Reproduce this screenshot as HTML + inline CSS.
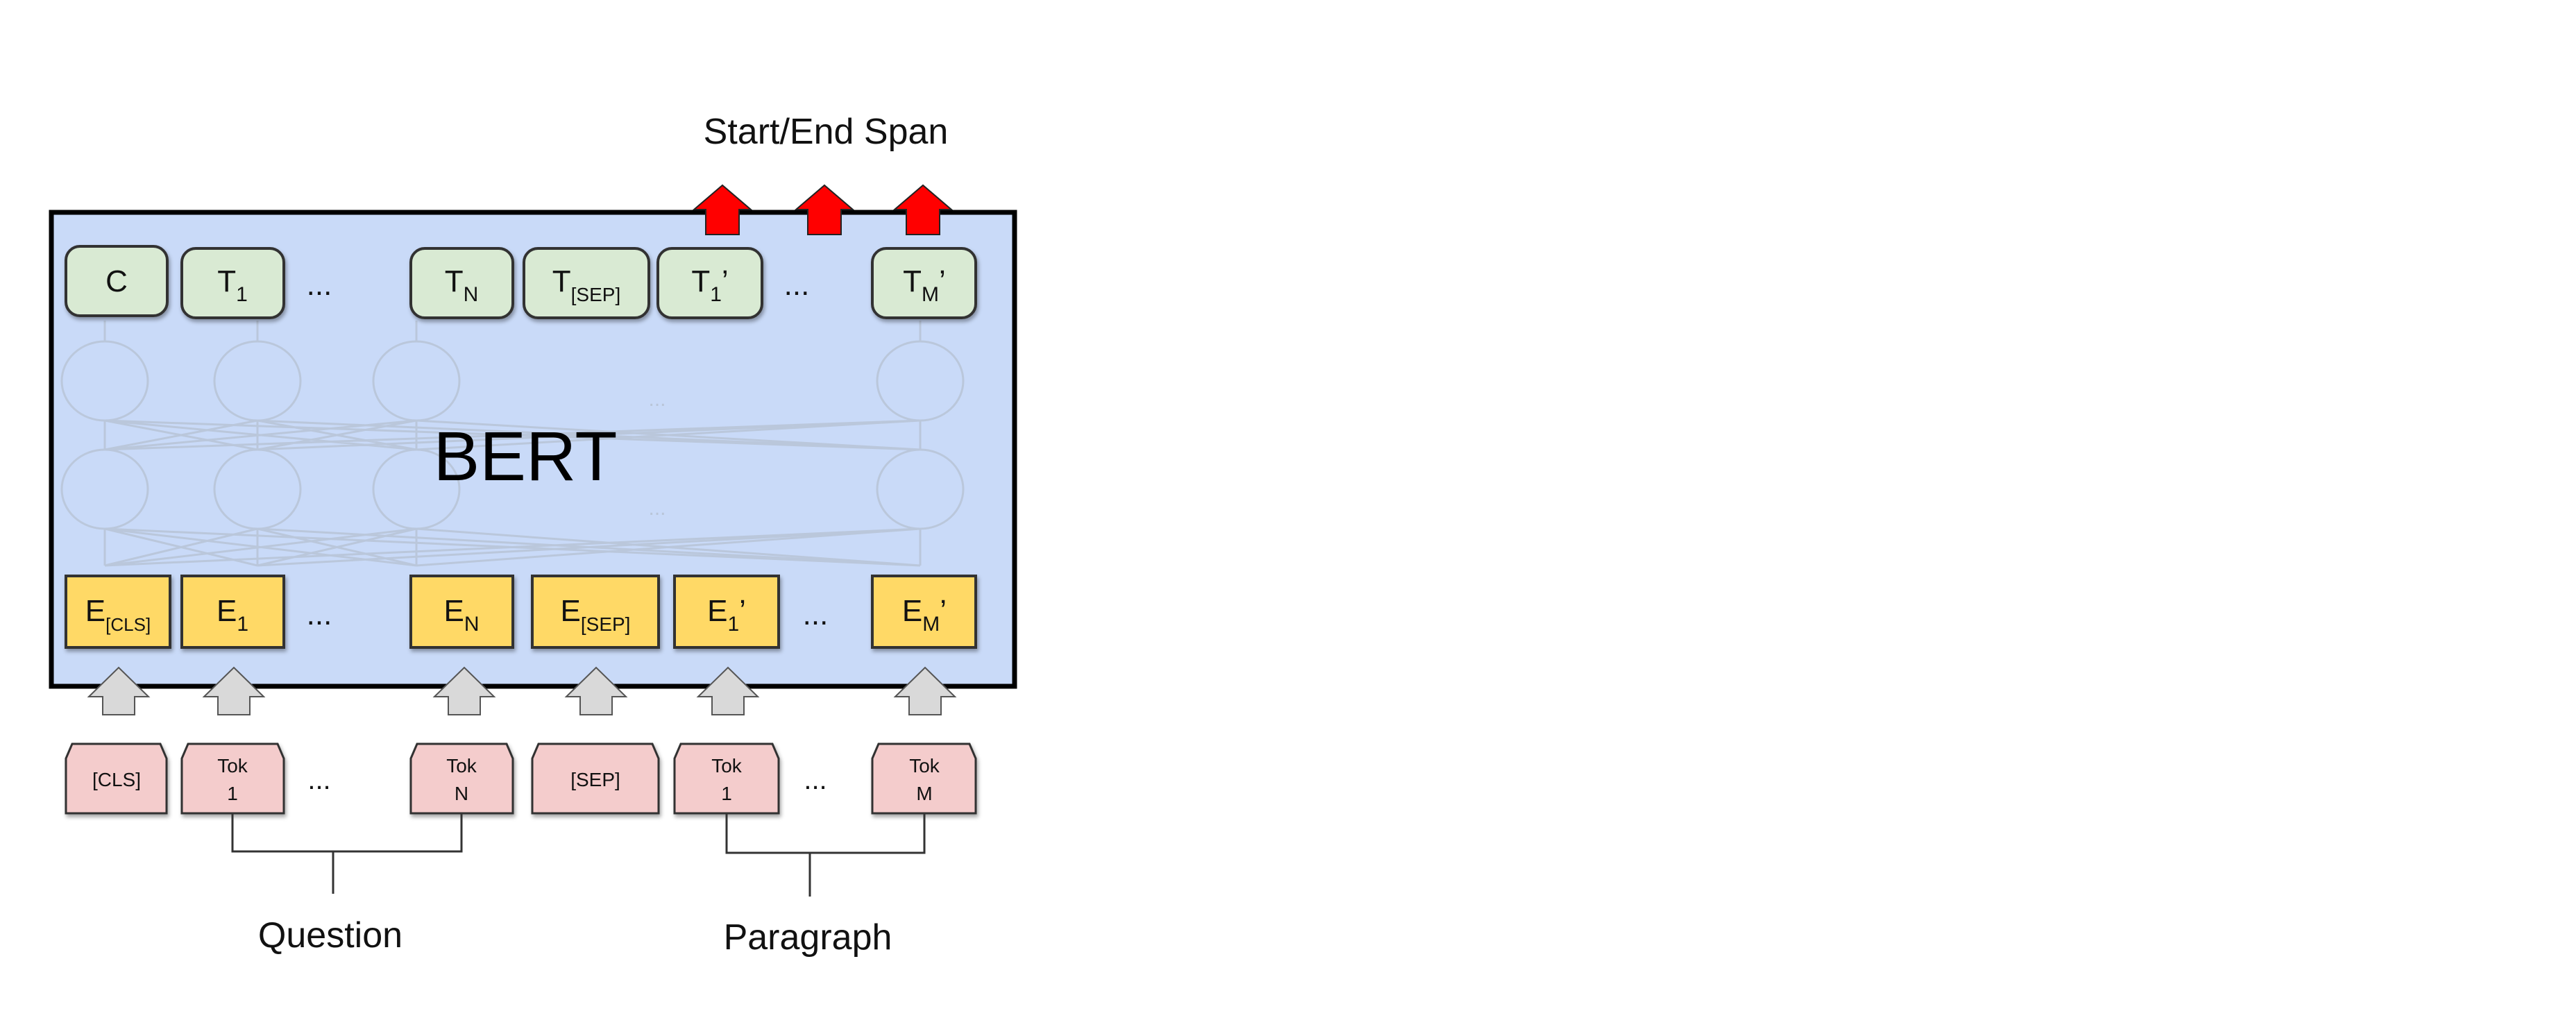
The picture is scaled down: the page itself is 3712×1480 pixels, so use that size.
<!DOCTYPE html>
<html><head><meta charset="utf-8"><style>
html,body{margin:0;padding:0;background:#fff;width:3712px;height:1480px;overflow:hidden}
svg{display:block}
text{font-family:"Liberation Sans",sans-serif}
</style></head><body>
<svg width="3712" height="1480" viewBox="0 0 3712 1480" xmlns="http://www.w3.org/2000/svg">
<defs>
<filter id="sh" x="-10%" y="-10%" width="130%" height="130%"><feDropShadow dx="2" dy="4" stdDeviation="3" flood-color="#000" flood-opacity="0.35"/></filter>
</defs>
<!-- title -->
<text x="1190" y="207" font-size="52" text-anchor="middle" fill="#111">Start/End Span</text>
<!-- main box -->
<rect x="74" y="306" width="1388" height="683" fill="#c9daf8" stroke="#000" stroke-width="7"/>
<!-- red arrows -->
<g fill="#ff0000" stroke="#222" stroke-width="2">
<polygon points="1000,302 1041,267 1082,302 1065,302 1065,338 1017,338 1017,302"/>
<polygon points="1147,302 1188,267 1229,302 1212,302 1212,338 1164,338 1164,302"/>
<polygon points="1289,302 1330,267 1371,302 1354,302 1354,338 1306,338 1306,302"/>
</g>
<!-- network faint -->
<g stroke="#b9c5d8" stroke-width="3" fill="none" opacity="0.9">
<ellipse cx="151" cy="549" rx="62" ry="57"/><ellipse cx="371" cy="549" rx="62" ry="57"/><ellipse cx="600" cy="549" rx="62" ry="57"/><ellipse cx="1326" cy="549" rx="62" ry="57"/>
<ellipse cx="151" cy="705" rx="62" ry="57"/><ellipse cx="371" cy="705" rx="62" ry="57"/><ellipse cx="600" cy="705" rx="62" ry="57"/><ellipse cx="1326" cy="705" rx="62" ry="57"/>
<path d="M151 492V462M371 492V462M600 492V462M1326 492V462"/>
<path d="M151 648V606M371 648V606M600 648V606M1326 648V606"/>
<path d="M151 815V762M371 815V762M600 815V762M1326 815V762"/>
<path d="M151 648L371 606M151 648L600 606M151 648L1326 606M371 648L151 606M371 648L600 606M371 648L1326 606M600 648L151 606M600 648L371 606M600 648L1326 606M1326 648L151 606M1326 648L371 606M1326 648L600 606"/>
<path d="M151 815L371 762M151 815L600 762M151 815L1326 762M371 815L151 762M371 815L600 762M371 815L1326 762M600 815L151 762M600 815L371 762M600 815L1326 762M1326 815L151 762M1326 815L371 762M1326 815L600 762"/>
</g>
<text x="947" y="585" font-size="30" fill="#b9c5d8" text-anchor="middle">...</text>
<text x="947" y="742" font-size="30" fill="#b9c5d8" text-anchor="middle">...</text>
<text x="757" y="692" font-size="100" text-anchor="middle" fill="#000">BERT</text>
<!-- T boxes -->
<g fill="#d9ead3" stroke="#333" stroke-width="4" filter="url(#sh)">
<rect x="95" y="355" width="146" height="100" rx="20"/>
<rect x="262" y="358" width="147" height="100" rx="20"/>
<rect x="592" y="358" width="147" height="100" rx="20"/>
<rect x="755" y="358" width="180" height="100" rx="20"/>
<rect x="948" y="358" width="150" height="100" rx="20"/>
<rect x="1257" y="358" width="149" height="100" rx="20"/>
</g>
<g font-size="44" fill="#111" text-anchor="middle">
<text x="168" y="420">C</text>
<text x="335" y="420">T<tspan font-size="30" dy="14">1</tspan></text>
<text x="665" y="420">T<tspan font-size="30" dy="14">N</tspan></text>
<text x="845" y="420">T<tspan font-size="28" dy="14">[SEP]</tspan></text>
<text x="1023" y="420">T<tspan font-size="30" dy="14">1</tspan><tspan dy="-14">’</tspan></text>
<text x="1332" y="420">T<tspan font-size="30" dy="14">M</tspan><tspan dy="-14">’</tspan></text>
<text x="460" y="425">...</text>
<text x="1148" y="425">...</text>
</g>
<!-- E boxes -->
<g fill="#ffd966" stroke="#333" stroke-width="4" filter="url(#sh)">
<rect x="95" y="830" width="150" height="103"/>
<rect x="262" y="830" width="147" height="103"/>
<rect x="592" y="830" width="147" height="103"/>
<rect x="767" y="830" width="182" height="103"/>
<rect x="972" y="830" width="150" height="103"/>
<rect x="1257" y="830" width="149" height="103"/>
</g>
<g font-size="44" fill="#111" text-anchor="middle">
<text x="170" y="895">E<tspan font-size="26" dy="14">[CLS]</tspan></text>
<text x="335" y="895">E<tspan font-size="30" dy="14">1</tspan></text>
<text x="665" y="895">E<tspan font-size="30" dy="14">N</tspan></text>
<text x="858" y="895">E<tspan font-size="28" dy="14">[SEP]</tspan></text>
<text x="1047" y="895">E<tspan font-size="30" dy="14">1</tspan><tspan dy="-14">’</tspan></text>
<text x="1332" y="895">E<tspan font-size="30" dy="14">M</tspan><tspan dy="-14">’</tspan></text>
<text x="460" y="900">...</text>
<text x="1175" y="900">...</text>
</g>
<!-- gray arrows -->
<g fill="#d9d9d9" stroke="#555" stroke-width="2">
<polygon points="128,1004 171,962 214,1004 194,1004 194,1030 148,1030 148,1004"/>
<polygon points="294,1004 337,962 380,1004 360,1004 360,1030 314,1030 314,1004"/>
<polygon points="626,1004 669,962 712,1004 692,1004 692,1030 646,1030 646,1004"/>
<polygon points="816,1004 859,962 902,1004 882,1004 882,1030 836,1030 836,1004"/>
<polygon points="1006,1004 1049,962 1092,1004 1072,1004 1072,1030 1026,1030 1026,1004"/>
<polygon points="1290,1004 1333,962 1376,1004 1356,1004 1356,1030 1310,1030 1310,1004"/>
</g>
<!-- Tok boxes -->
<g fill="#f4cccc" stroke="#333" stroke-width="3" filter="url(#sh)">
<polygon points="95,1093 104,1072 231,1072 240,1093 240,1172 95,1172"/>
<polygon points="262,1093 271,1072 400,1072 409,1093 409,1172 262,1172"/>
<polygon points="592,1093 601,1072 730,1072 739,1093 739,1172 592,1172"/>
<polygon points="767,1093 776,1072 940,1072 949,1093 949,1172 767,1172"/>
<polygon points="972,1093 981,1072 1113,1072 1122,1093 1122,1172 972,1172"/>
<polygon points="1257,1093 1266,1072 1397,1072 1406,1093 1406,1172 1257,1172"/>
</g>
<g font-size="28" fill="#111" text-anchor="middle">
<text x="168" y="1133">[CLS]</text>
<text x="335" y="1113">Tok</text><text x="335" y="1153">1</text>
<text x="665" y="1113">Tok</text><text x="665" y="1153">N</text>
<text x="858" y="1133">[SEP]</text>
<text x="1047" y="1113">Tok</text><text x="1047" y="1153">1</text>
<text x="1332" y="1113">Tok</text><text x="1332" y="1153">M</text>
<text x="460" y="1137" font-size="40">...</text>
<text x="1175" y="1137" font-size="40">...</text>
</g>
<!-- brackets -->
<g stroke="#333" stroke-width="3" fill="none">
<path d="M335 1172V1227H665V1172M480 1227V1288"/>
<path d="M1047 1172V1229H1332V1172M1167 1229V1292"/>
</g>
<text x="476" y="1365" font-size="52" text-anchor="middle" fill="#111">Question</text>
<text x="1164" y="1368" font-size="52" text-anchor="middle" fill="#111">Paragraph</text>
</svg>
</body></html>
